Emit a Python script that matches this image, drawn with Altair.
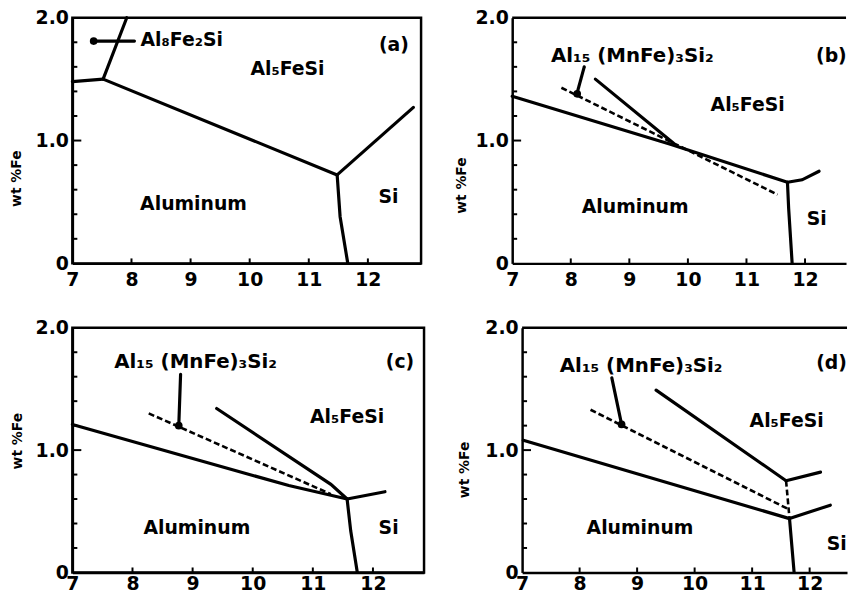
import altair as alt
import pandas as pd

FONT = "DejaVu Sans"

# ---------------- data ----------------
# each phase boundary is a polyline of (wt% Si, wt% Fe) points
a_solid = [
    [(7.0, 1.48), (7.52, 1.50)],
    [(7.52, 1.50), (7.92, 2.0)],
    [(7.52, 1.50), (11.48, 0.72)],
    [(11.48, 0.72), (11.53, 0.38), (11.66, 0.0)],
    [(11.48, 0.72), (12.77, 1.27)],
    [(7.36, 1.81), (8.05, 1.81)],
]
a_dashed = []
a_dots = [(7.36, 1.81)]
a_labels = [("Al₈Fe₂Si", 8.85, 1.82), ("Al₅FeSi", 10.64, 1.58), ("(a)", 12.44, 1.78),
            ("Aluminum", 9.05, 0.48), ("Si", 12.35, 0.54)]
a_compound = []

b_solid = [
    [(7.0, 1.36), (9.7, 0.97), (11.7, 0.66)],
    [(8.42, 1.50), (9.75, 0.98)],
    [(11.7, 0.66), (11.72, 0.45), (11.78, 0.0)],
    [(11.7, 0.66), (11.95, 0.68), (12.24, 0.75)],
    [(8.23, 1.60), (8.11, 1.39)],
]
b_dashed = [[(7.84, 1.43), (11.53, 0.56)]]
b_dots = [(8.11, 1.38)]
b_labels = [("(b)", 12.45, 1.69), ("Al₅FeSi", 11.02, 1.29),
            ("Aluminum", 9.10, 0.46), ("Si", 12.2, 0.36)]
b_compound = [("Al₁₅ (MnFe)₃Si₂", 9.05, 1.69)]

c_solid = [
    [(7.0, 1.21), (10.6, 0.71), (11.57, 0.60)],
    [(9.40, 1.34), (11.30, 0.72), (11.57, 0.60)],
    [(11.57, 0.60), (11.63, 0.34), (11.74, 0.0)],
    [(11.57, 0.60), (12.2, 0.66)],
    [(8.80, 1.62), (8.77, 1.20)],
]
c_dashed = [[(8.27, 1.30), (11.30, 0.64)]]
c_dots = [(8.77, 1.20)]
c_labels = [("(c)", 12.45, 1.72), ("Al₅FeSi", 11.57, 1.27),
            ("Aluminum", 9.07, 0.36), ("Si", 12.26, 0.36)]
c_compound = [("Al₁₅ (MnFe)₃Si₂", 9.05, 1.72)]

d_solid = [
    [(7.02, 1.08), (11.65, 0.44)],
    [(11.65, 0.44), (11.73, 0.0)],
    [(11.65, 0.44), (12.36, 0.55)],
    [(9.33, 1.49), (11.59, 0.75)],
    [(11.59, 0.75), (12.19, 0.82)],
    [(8.56, 1.59), (8.73, 1.21)],
]
d_dashed = [[(8.19, 1.33), (11.62, 0.52)], [(11.59, 0.75), (11.65, 0.44)]]
d_dots = [(8.73, 1.21)]
d_labels = [("(d)", 12.38, 1.71), ("Al₅FeSi", 11.6, 1.24),
            ("Aluminum", 9.05, 0.36), ("Si", 12.47, 0.23)]
d_compound = [("Al₁₅ (MnFe)₃Si₂", 9.07, 1.69)]

x_ticks = [8, 9, 10, 11, 12]
y_minor = [0.2, 0.4, 0.6, 0.8, 1.2, 1.4, 1.6, 1.8]
y_major = [1.0]
x_label_values = [7, 8, 9, 10, 11, 12]
y_label_values = [0, 1, 2]


def seg_frame(segs):
    rows = []
    for i, s in enumerate(segs):
        for j, (x, y) in enumerate(s):
            rows.append({"seg": i, "idx": j, "x": x, "y": y})
    return pd.DataFrame(rows, columns=["seg", "idx", "x", "y"])


def panel(solid, dashed, dots, labels, compound, xmax, width, height,
          title_x, title_y, xlab_pad, open_frame):
    xs = alt.Scale(domain=[7, xmax], nice=False, zero=False)
    ys = alt.Scale(domain=[0, 2.0], nice=False, zero=False)
    X = alt.X("x:Q", scale=xs, axis=alt.Axis(
        values=x_label_values, format="d", title=None, grid=False, ticks=False,
        labelFont=FONT, labelFontWeight="bold", labelFontSize=19, labelColor="black",
        labelPadding=xlab_pad, labelFlush=False, domain=True, domainColor="black",
        domainWidth=2.5))
    Y = alt.Y("y:Q", scale=ys, axis=alt.Axis(
        values=y_label_values, labelExpr="datum.value == 0 ? '0' : format(datum.value, '.1f')",
        title="wt %Fe", titleFont=FONT, titleFontWeight="bold", titleFontSize=14,
        titleColor="black", titleX=title_x, titleY=title_y, grid=False, ticks=False,
        labelFont=FONT, labelFontWeight="bold", labelFontSize=19, labelColor="black",
        labelPadding=4, labelFlush=False, domain=True, domainColor="black", domainWidth=2.5))

    layers = []
    layers.append(alt.Chart(seg_frame(solid)).mark_line(
        color="black", strokeWidth=3.2, strokeCap="round").encode(
        x=X, y=Y, detail="seg:N", order="idx:Q"))
    if dashed:
        layers.append(alt.Chart(seg_frame(dashed)).mark_line(
            color="black", strokeWidth=2.6, strokeDash=[6, 3]).encode(
            x=X, y=Y, detail="seg:N", order="idx:Q"))
    layers.append(alt.Chart(pd.DataFrame(dots, columns=["x", "y"])).mark_point(
        filled=True, color="black", size=60, opacity=1).encode(x=X, y=Y))
    layers.append(alt.Chart(pd.DataFrame(labels, columns=["t", "x", "y"])).mark_text(
        font=FONT, fontWeight="bold", fontSize=19, color="black", baseline="middle",
        align="center").encode(x=X, y=Y, text="t:N"))
    if compound:
        layers.append(alt.Chart(pd.DataFrame(compound, columns=["t", "x", "y"])).mark_text(
            font=FONT, fontWeight="bold", fontSize=20, color="black", baseline="middle",
            align="center").encode(x=X, y=Y, text="t:N"))
    # inward ticks
    layers.append(alt.Chart(pd.DataFrame({"y": y_minor})).mark_rule(
        color="black", strokeWidth=2).encode(x=alt.value(0), x2=alt.value(5), y=Y))
    layers.append(alt.Chart(pd.DataFrame({"y": y_major})).mark_rule(
        color="black", strokeWidth=2).encode(x=alt.value(0), x2=alt.value(9), y=Y))
    layers.append(alt.Chart(pd.DataFrame({"x": x_ticks})).mark_rule(
        color="black", strokeWidth=2).encode(x=X, y=alt.value(height), y2=alt.value(height - 5)))
    if open_frame:
        layers.append(alt.Chart(pd.DataFrame({"x": [7]})).mark_rule(
            color="black", strokeWidth=2.5).encode(
            x=alt.value(0), x2=alt.value(width), y=alt.value(0)))
        view = alt.ViewBackground(stroke="transparent")
    else:
        view = alt.ViewBackground(stroke="black", strokeWidth=2.5)
    return alt.layer(*layers).properties(width=width, height=height, view=view)


pa = panel(a_solid, a_dashed, a_dots, a_labels, a_compound, 12.9, 352, 248, -49, 162, 7, False)
pb = panel(b_solid, b_dashed, b_dots, b_labels, b_compound, 12.7, 337, 248, -44, 169, 7, True)
pc = panel(c_solid, c_dashed, c_dots, c_labels, c_compound, 12.85, 355, 247, -48, 114, 2, False)
pd_ = panel(d_solid, d_dashed, d_dots, d_labels, d_compound, 12.65, 328, 247, -51, 143, 2, True)

chart = alt.vconcat(
    alt.hconcat(pa, pb, spacing=31),
    alt.hconcat(pc, pd_, spacing=31),
    spacing=26,
).properties(padding={"left": 0, "top": -4, "right": 0, "bottom": 0}, background="white")

chart.save("out.html", embed_options={"renderer": "svg", "actions": False})
